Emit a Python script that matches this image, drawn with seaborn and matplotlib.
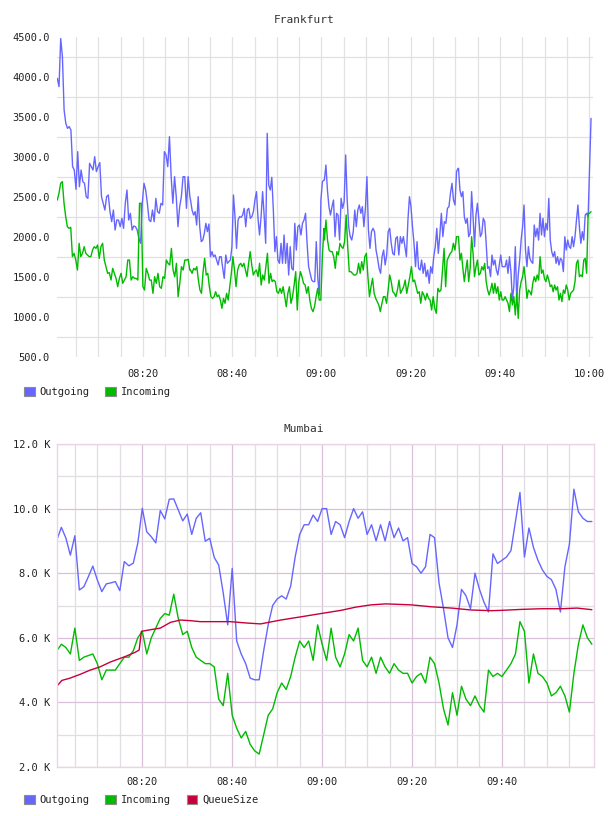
import numpy as np
import pandas as pd
import matplotlib
matplotlib.use("Agg")
import matplotlib.pyplot as plt
import matplotlib.dates as mdates
from matplotlib.patches import Patch
from matplotlib.ticker import FixedLocator, FuncFormatter
import seaborn as sns

sns.set_style("white")
plt.rcParams['font.family'] = ['DejaVu Sans Mono', 'DejaVu Sans']

BLUE = '#6666ff'
GREEN = '#00bb00'
RED = '#c8003a'

day = pd.Timestamp('2015-06-01 08:00')

# ---- Frankfurt (read in four 30 minute pieces, minutes after 08:00) ----
fra_seg_start = [0.8, 30.65, 60.65, 90.7]
fra_seg_end = [30.5, 60.55, 90.6, 120.4]

fra_out_a = [3983, 3880, 4480, 4254, 3587, 3420, 3358, 3380, 3337, 2879, 2837, 2596, 3067, 2629, 2837, 2692,
             2671, 2504, 2483, 2921, 2879, 2837, 3004, 2817, 2879, 2929, 2504, 2421, 2337, 2504, 2525, 2317,
             2192, 2337, 2087, 2212, 2212, 2129, 2233, 2108, 2421, 2587, 2212, 2296, 2087, 2137, 2129, 2087,
             1983, 1921, 2421, 2671, 2587, 2421, 2212, 2192, 2337, 2192, 2483, 2317, 2296, 2421, 2400, 3067,
             3025, 2879, 3254, 2754, 2421, 2754, 2504, 2129, 2379, 2504, 2754, 2754, 2358, 2754, 2504]
fra_out_b = [2462, 2337, 2275, 2317, 2150, 2504, 2129, 1942, 1962, 2046, 2171, 2067, 2162, 1754, 1817, 1754,
             1775, 1712, 1650, 1754, 1754, 1608, 1483, 1775, 1671, 1692, 1712, 1879, 2525, 2254, 1858, 2212,
             2254, 2246, 2275, 2358, 2129, 2337, 2358, 2233, 2254, 2317, 2462, 2567, 2233, 2025, 2254, 2567,
             2275, 1921, 3296, 2650, 2587, 2746, 2337, 1817, 2004, 1712, 1671, 1921, 1671, 2025, 1671, 1921,
             1525, 1879, 1608, 1587, 2171, 1837, 2129, 2150, 2025, 2171, 2212, 2296, 1921, 1629, 1546, 1462,
             1442, 1442, 1942, 1483, 1275, 2462, 2692, 2712]
fra_out_c = [2712, 2900, 2587, 2379, 2275, 2379, 2462, 2004, 2296, 2275, 1962, 2483, 2358, 2442, 3025, 2462,
             2129, 2004, 1962, 2067, 2337, 2129, 2337, 2400, 2296, 2379, 2129, 2358, 2754, 2087, 1858, 2067,
             2108, 2067, 1837, 1733, 1608, 1546, 1754, 1837, 1650, 1775, 2067, 2108, 1921, 1796, 1775, 1983,
             2004, 1775, 2004, 1921, 2004, 1879, 1754, 2212, 2504, 2379, 2129, 1921, 1629, 1942, 1608, 1587,
             1712, 1546, 1671, 1504, 1587, 1421, 1629, 1546, 1754, 1879, 2108, 1796, 2025, 2296, 2004, 2192,
             2171, 2358, 2379, 2546, 2671, 2462, 2400, 2817, 2858]
fra_out_d = [2858, 2587, 2504, 2567, 2254, 2171, 2233, 2004, 2046, 2567, 2254, 1879, 2275, 2421, 2212, 2004,
             2046, 2233, 2192, 1921, 1608, 1629, 1504, 1775, 1650, 1712, 1587, 1525, 1650, 1775, 1629, 1629,
             1629, 1712, 1546, 1754, 1567, 1212, 1379, 1879, 1212, 1525, 1712, 1962, 2129, 2400, 1837, 1629,
             1879, 1733, 1692, 1671, 2150, 2004, 2108, 1962, 2296, 2025, 2233, 2004, 2171, 2087, 2483, 1962,
             1817, 1754, 1817, 1671, 1754, 1650, 1733, 1712, 1567, 2004, 1837, 1962, 1879, 1858, 2004, 1879,
             2004, 2212, 2400, 2129, 1921, 2067, 1962, 2275, 2296, 2254, 2879, 3483]

fra_in_a = [2462, 2546, 2671, 2692, 2421, 2254, 2129, 2108, 2121, 1754, 1796, 1712, 1587, 1921, 1754, 1796,
            1879, 1796, 1775, 1754, 1754, 1837, 1879, 1858, 1900, 1733, 1879, 1921, 1712, 1629, 1546, 1554,
            1462, 1608, 1546, 1483, 1379, 1483, 1546, 1421, 1462, 1504, 1712, 1712, 1462, 1504, 1483, 1483,
            1462, 2421, 2421, 1379, 1337, 1608, 1546, 1462, 1462, 1296, 1504, 1421, 1546, 1379, 1358, 1504,
            1483, 1712, 1671, 1650, 1858, 1587, 1504, 1671, 1254, 1421, 1629, 1587, 1712, 1712, 1721, 1587]
fra_in_b = [1587, 1546, 1608, 1587, 1629, 1462, 1337, 1296, 1567, 1733, 1525, 1546, 1379, 1254, 1233, 1254,
            1316, 1254, 1275, 1212, 1108, 1233, 1171, 1296, 1212, 1379, 1546, 1754, 1587, 1379, 1587, 1650,
            1671, 1629, 1671, 1587, 1504, 1671, 1817, 1650, 1525, 1567, 1587, 1504, 1671, 1400, 1525, 1462,
            1629, 1796, 1421, 1546, 1442, 1462, 1442, 1316, 1296, 1358, 1296, 1379, 1254, 1129, 1296, 1379,
            1171, 1254, 1400, 1567, 1087, 1442, 1567, 1504, 1421, 1400, 1296, 1379, 1212, 1108, 1067, 1129,
            1254, 1358, 1212, 1212, 1754, 2108]
fra_in_c = [1962, 2212, 1962, 1837, 1817, 1817, 1754, 1608, 1817, 1775, 1921, 1879, 1858, 1942, 2275, 1879,
            1567, 1567, 1546, 1525, 1525, 1546, 1671, 1546, 1692, 1587, 1754, 1796, 1504, 1254, 1379, 1483,
            1296, 1233, 1192, 1150, 1067, 1171, 1254, 1254, 1171, 1337, 1525, 1442, 1316, 1296, 1254, 1337,
            1462, 1296, 1337, 1379, 1462, 1296, 1400, 1504, 1629, 1442, 1462, 1379, 1296, 1316, 1171, 1316,
            1275, 1212, 1296, 1233, 1212, 1087, 1254, 1108, 1046, 1358, 1316, 1337, 1587, 1858, 1379, 1712,
            1754, 1796, 1817, 1921, 1837, 2004, 2004]
fra_in_d = [2004, 1712, 1796, 1608, 1442, 1587, 1712, 1442, 1608, 2004, 1796, 1504, 1629, 1712, 1525, 1546,
            1629, 1587, 1671, 1442, 1337, 1275, 1337, 1421, 1296, 1421, 1296, 1379, 1212, 1316, 1212, 1212,
            1254, 1212, 1171, 1067, 1296, 1150, 1254, 1025, 1296, 983, 1337, 1442, 1504, 1629, 1462, 1233,
            1337, 1316, 1275, 1421, 1504, 1442, 1525, 1462, 1754, 1546, 1587, 1483, 1442, 1525, 1462, 1379,
            1400, 1316, 1400, 1337, 1379, 1212, 1296, 1192, 1337, 1296, 1400, 1337, 1212, 1296, 1316, 1337,
            1442, 1671, 1712, 1504, 1525, 1504, 1712, 1733, 1546, 2296, 2296, 2317]

# ---- Mumbai (one value per minute, 08:01 .. 10:00), thousands ----
mum_minutes = list(range(1, 121))
mum_out = [9.03, 9.42, 9.09, 8.56, 9.16, 7.48, 7.58, 7.89, 8.22, 7.79, 7.43, 7.67, 7.70, 7.74, 7.46, 8.36,
           8.23, 8.31, 8.93, 10.01, 9.28, 9.13, 8.94, 9.94, 9.68, 10.29, 10.30, 9.96, 9.62, 9.83, 9.20, 9.70,
           9.87, 8.99, 9.08, 8.49, 8.25, 7.39, 6.40, 8.15, 5.90, 5.50, 5.20, 4.75, 4.70, 4.70, 5.60, 6.40,
           7.00, 7.20, 7.30, 7.20, 7.60, 8.50, 9.20, 9.50, 9.50, 9.80, 9.60, 10.00, 10.00, 9.20, 9.60, 9.50,
           9.10, 9.60, 10.00, 9.70, 9.90, 9.20, 9.50, 9.00, 9.50, 9.00, 9.60, 9.10, 9.40, 9.00, 9.10, 8.30,
           8.20, 8.00, 8.20, 9.20, 9.10, 7.70, 6.90, 6.00, 5.70, 6.40, 7.50, 7.30, 6.90, 8.00, 7.50, 7.10,
           6.80, 8.60, 8.30, 8.40, 8.50, 8.70, 9.60, 10.50, 8.50, 9.40, 8.80, 8.40, 8.10, 7.90, 7.80, 7.50,
           6.80, 8.20, 8.90, 10.60, 9.90, 9.70, 9.60, 9.60]
mum_in = [5.60, 5.80, 5.70, 5.50, 6.30, 5.30, 5.40, 5.45, 5.50, 5.20, 4.70, 5.00, 5.00, 5.00, 5.20, 5.40,
          5.40, 5.60, 6.00, 6.20, 5.50, 6.00, 6.30, 6.60, 6.75, 6.70, 7.35, 6.60, 6.10, 6.20, 5.70, 5.40,
          5.30, 5.20, 5.20, 5.10, 4.10, 3.90, 4.90, 3.60, 3.20, 2.90, 3.10, 2.70, 2.50, 2.40, 3.00, 3.60,
          3.80, 4.30, 4.60, 4.40, 4.80, 5.40, 5.90, 5.70, 5.90, 5.30, 6.40, 5.80, 5.30, 6.30, 5.40, 5.10,
          5.50, 6.10, 5.90, 6.30, 5.30, 5.10, 5.40, 4.90, 5.40, 5.10, 4.90, 5.20, 5.00, 4.90, 4.90, 4.60,
          4.80, 4.90, 4.60, 5.40, 5.20, 4.60, 3.80, 3.30, 4.30, 3.60, 4.50, 4.10, 3.90, 4.20, 3.90, 3.70,
          5.00, 4.80, 4.90, 4.80, 5.00, 5.20, 5.50, 6.50, 6.20, 4.60, 5.50, 4.90, 4.80, 4.60, 4.20, 4.30,
          4.50, 4.20, 3.70, 4.90, 5.80, 6.40, 6.00, 5.80]
mum_queue_minutes = [1.0, 2.1, 3.9, 6.2, 8.4, 10.6, 12.9, 16.2, 18.4, 19.3, 19.8, 21.8, 24.0, 26.3, 28.5,
                     30.7, 32.9, 36.3, 39.6, 43.0, 46.3, 50.8, 55.3, 59.7, 64.2, 67.5, 70.9, 74.2, 79.8,
                     84.3, 88.8, 93.2, 97.7, 99.9, 104.4, 108.8, 113.3, 116.7, 120.0]
mum_queue = [4.50, 4.68, 4.75, 4.87, 5.00, 5.10, 5.25, 5.42, 5.55, 5.62, 6.20, 6.25, 6.30, 6.48, 6.55,
             6.53, 6.50, 6.50, 6.50, 6.46, 6.43, 6.55, 6.65, 6.75, 6.85, 6.95, 7.02, 7.05, 7.02, 6.96,
             6.92, 6.86, 6.84, 6.85, 6.88, 6.90, 6.90, 6.92, 6.87]


def at(minutes):
    return day + pd.to_timedelta(np.asarray(minutes, dtype=float), unit='m')


def frankfurt_series(pieces, name):
    rows = []
    for vals, t0, t1 in zip(pieces, fra_seg_start, fra_seg_end):
        rows.append(pd.DataFrame({'time': at(np.linspace(t0, t1, len(vals))),
                                  'value': vals, 'series': name}))
    return pd.concat(rows, ignore_index=True)


fra = pd.concat([frankfurt_series([fra_out_a, fra_out_b, fra_out_c, fra_out_d], 'Outgoing'),
                 frankfurt_series([fra_in_a, fra_in_b, fra_in_c, fra_in_d], 'Incoming')],
                ignore_index=True)

mum = pd.concat([
    pd.DataFrame({'time': at(mum_minutes), 'value': np.array(mum_out) * 1000, 'series': 'Outgoing'}),
    pd.DataFrame({'time': at(mum_minutes), 'value': np.array(mum_in) * 1000, 'series': 'Incoming'}),
    pd.DataFrame({'time': at(mum_queue_minutes), 'value': np.array(mum_queue) * 1000, 'series': 'QueueSize'}),
], ignore_index=True)

W, H = 608, 816
fig = plt.figure(figsize=(W / 100, H / 100), dpi=100)
fig.patch.set_facecolor('white')

pal = {'Outgoing': BLUE, 'Incoming': GREEN, 'QueueSize': RED}
txt = '#222222'
fs = 7.5

# ---------- Frankfurt ----------
ax1 = fig.add_axes([57 / W, 1 - 357 / H, 536 / W, 320 / H])
sns.lineplot(data=fra, x='time', y='value', hue='series', palette=pal, estimator=None,
             legend=False, linewidth=1.0, ax=ax1)
ax1.set_xlim(day + pd.Timedelta(minutes=0.73), day + pd.Timedelta(minutes=120.84))
ax1.set_ylim(500, 4500)
ax1.yaxis.set_major_locator(FixedLocator(np.arange(500, 4501, 500)))
ax1.yaxis.set_minor_locator(FixedLocator(np.arange(750, 4300, 500)))
ax1.yaxis.set_major_formatter(FuncFormatter(lambda v, p: f'{v:.1f}'))
ax1.xaxis.set_major_locator(mdates.MinuteLocator(byminute=[0, 20, 40]))
ax1.xaxis.set_minor_locator(mdates.MinuteLocator(byminute=range(0, 60, 5)))
ax1.xaxis.set_major_formatter(mdates.DateFormatter('%H:%M'))
ax1.grid(False)
ax1.grid(which='minor', axis='y', color='#e0e0e0', linewidth=0.9)
ax1.grid(which='both', axis='x', color='#e2e2e2', linewidth=0.9)
for s in ax1.spines.values():
    s.set_visible(False)
ax1.tick_params(which='both', length=0, labelsize=fs, colors=txt)
ax1.tick_params(axis='x', pad=8.5)
ax1.tick_params(axis='y', pad=5)
ax1.set_xlabel('')
ax1.set_ylabel('')

fig.text(304 / W, 1 - 20 / H, 'Frankfurt', ha='center', va='center', fontsize=8, color='#333333')

# ---------- Mumbai ----------
ax2 = fig.add_axes([57 / W, 1 - 767 / H, 537 / W, 323 / H])
sns.lineplot(data=mum, x='time', y='value', hue='series', palette=pal, estimator=None,
             legend=False, linewidth=1.0, ax=ax2)
ax2.set_xlim(day + pd.Timedelta(minutes=1.03), day + pd.Timedelta(minutes=120.47))
ax2.set_ylim(2000, 12000)
ax2.yaxis.set_major_locator(FixedLocator(np.arange(2000, 12001, 2000)))
ax2.yaxis.set_minor_locator(FixedLocator(np.arange(3000, 12000, 2000)))
ax2.yaxis.set_major_formatter(FuncFormatter(lambda v, p: f'{v / 1000:.1f} K'))
ax2.xaxis.set_major_locator(FixedLocator(mdates.date2num(at([20, 40, 60, 80, 100]))))
ax2.xaxis.set_minor_locator(FixedLocator(mdates.date2num(at([5, 10, 15, 25, 30, 35, 45, 50, 55, 65, 70,
                                                             75, 85, 90, 95, 105, 110, 115]))))
ax2.xaxis.set_major_formatter(mdates.DateFormatter('%H:%M'))
ax2.grid(False)
ax2.grid(which='major', color='#d9c0d9', linewidth=0.9)
ax2.grid(which='minor', color='#e2dde2', linewidth=0.9)
ax2.set_axisbelow(True)
for s in ax2.spines.values():
    s.set_color('#e8d6e8')
    s.set_linewidth(1.0)
ax2.tick_params(which='both', length=0, labelsize=fs, colors=txt)
ax2.tick_params(axis='x', pad=7)
ax2.tick_params(axis='y', pad=5)
ax2.set_xlabel('')
ax2.set_ylabel('')

fig.text(304 / W, 1 - 429 / H, 'Mumbai', ha='center', va='center', fontsize=8, color='#333333')

# ---------- legends ----------
def swatch(c, name):
    return Patch(facecolor=c, edgecolor='#8c8c8c', linewidth=0.8, label=name)


leg_kw = dict(loc='center left', frameon=False, fontsize=fs, handlelength=1.05, handleheight=1.05,
              handletextpad=0.45, columnspacing=1.5, borderpad=0, borderaxespad=0, labelcolor=txt)
fig.legend(handles=[swatch(BLUE, 'Outgoing'), swatch(GREEN, 'Incoming')], ncol=2,
           bbox_to_anchor=(24 / W, 1 - 392 / H), **leg_kw)
fig.legend(handles=[swatch(BLUE, 'Outgoing'), swatch(GREEN, 'Incoming'), swatch(RED, 'QueueSize')],
           ncol=3, bbox_to_anchor=(24 / W, 1 - 800 / H), **leg_kw)

fig.savefig('out.png', dpi=100, facecolor='white')
